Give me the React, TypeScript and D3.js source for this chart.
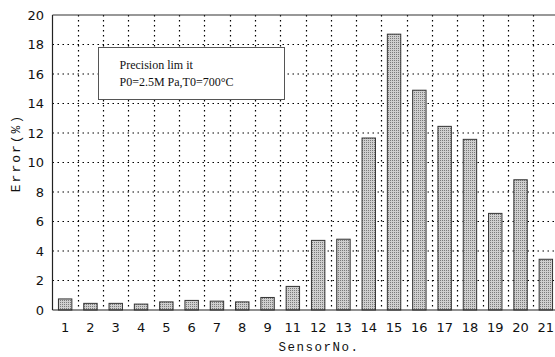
import React, { useRef, useEffect } from "react";
import * as d3 from "d3";

const sensors = ["1", "2", "3", "4", "5", "6", "7", "8", "9", "11", "12", "13", "14", "15", "16", "17", "18", "19", "20", "21"];
const errors = [0.75, 0.45, 0.45, 0.4, 0.55, 0.65, 0.6, 0.55, 0.85, 1.6, 4.72, 4.8, 11.66, 18.7, 14.9, 12.45, 11.57, 6.55, 8.83, 3.44];
const yTicks = [0, 2, 4, 6, 8, 10, 12, 14, 16, 18, 20];
const legendLines = ["Precision lim it", "P0=2.5M Pa,T0=700°C"];

const App: React.FC = () => {
  const ref = useRef<SVGSVGElement | null>(null);

  useEffect(() => {
    const svg = d3.select(ref.current);
    svg.selectAll("*").remove();

    const W = 555;
    const H = 357;
    const margin = { top: 15, left: 52.5, bottom: 47 };
    const plotRight = 558.5;
    const height = H - margin.top - margin.bottom;

    const x = d3
      .scaleBand<string>()
      .domain(sensors)
      .range([margin.left, plotRight])
      .paddingInner(0.47)
      .paddingOuter(0.235);

    const y = d3.scaleLinear().domain([0, 20]).range([margin.top + height, margin.top]);

    svg.attr("width", W).attr("height", H).style("display", "block").style("background", "#fff");

    // texture for bars
    const defs = svg.append("defs");
    const pat = defs
      .append("pattern")
      .attr("id", "dots")
      .attr("width", 2)
      .attr("height", 2)
      .attr("patternUnits", "userSpaceOnUse");
    pat.append("rect").attr("width", 2).attr("height", 2).attr("fill", "#cfcfcf");
    pat.append("rect").attr("width", 1).attr("height", 1).attr("fill", "#7a7a7a");

    // horizontal grid
    svg
      .append("g")
      .selectAll("line")
      .data(yTicks.filter((t) => t > 0 && t < 20))
      .join("line")
      .attr("x1", margin.left)
      .attr("x2", plotRight)
      .attr("y1", (d) => y(d))
      .attr("y2", (d) => y(d))
      .attr("stroke", "#000")
      .attr("stroke-width", 1.2)
      .attr("stroke-dasharray", "1.5,3.5");

    // vertical grid between bars
    const step = x.step();
    svg
      .append("g")
      .selectAll("line")
      .data(sensors.slice(1))
      .join("line")
      .attr("x1", (d) => Math.round((x(d) as number) + x.bandwidth() / 2 - step / 2) + 0.5)
      .attr("x2", (d) => Math.round((x(d) as number) + x.bandwidth() / 2 - step / 2) + 0.5)
      .attr("y1", margin.top)
      .attr("y2", margin.top + height)
      .attr("stroke", "#000")
      .attr("stroke-width", 1.2)
      .attr("stroke-dasharray", "1.5,3.5");

    // legend box
    const lg = svg.append("g").attr("transform", "translate(98.5,47.5)");
    lg.append("rect")
      .attr("width", 186)
      .attr("height", 52)
      .attr("fill", "#fff")
      .attr("stroke", "#555")
      .attr("stroke-width", 1);
    lg.selectAll("text")
      .data(legendLines)
      .join("text")
      .attr("x", 21)
      .attr("y", (_, i) => 21 + i * 17)
      .attr("font-family", "'Liberation Serif', serif")
      .attr("font-size", 12)
      .attr("fill", "#111")
      .text((d) => d);

    // bars
    svg
      .append("g")
      .selectAll("rect")
      .data(errors)
      .join("rect")
      .attr("x", (_, i) => x(sensors[i]) as number)
      .attr("y", (d) => y(d))
      .attr("width", x.bandwidth())
      .attr("height", (d) => y(0) - y(d))
      .attr("fill", "url(#dots)")
      .attr("stroke", "#333")
      .attr("stroke-width", 1);

    // axes frame
    svg.append("line")
      .attr("x1", margin.left).attr("x2", margin.left)
      .attr("y1", margin.top).attr("y2", margin.top + height)
      .attr("stroke", "#222").attr("stroke-width", 1.2);
    svg.append("line")
      .attr("x1", margin.left).attr("x2", plotRight)
      .attr("y1", margin.top + height).attr("y2", margin.top + height)
      .attr("stroke", "#222").attr("stroke-width", 1.2);
    svg.append("line")
      .attr("x1", margin.left).attr("x2", plotRight)
      .attr("y1", margin.top).attr("y2", margin.top)
      .attr("stroke", "#333").attr("stroke-width", 1.2);

    // y tick labels
    svg
      .append("g")
      .selectAll("text")
      .data(yTicks)
      .join("text")
      .attr("x", 44)
      .attr("y", (d) => y(d))
      .attr("dy", "0.35em")
      .attr("text-anchor", "end")
      .attr("font-family", "'DejaVu Sans', sans-serif")
      .attr("font-size", 13)
      .attr("fill", "#111")
      .text((d) => d);

    // x tick labels
    svg
      .append("g")
      .selectAll("text")
      .data(sensors)
      .join("text")
      .attr("x", (d) => (x(d) as number) + x.bandwidth() / 2)
      .attr("y", 332)
      .attr("text-anchor", "middle")
      .attr("font-family", "'DejaVu Sans', sans-serif")
      .attr("font-size", 13)
      .attr("fill", "#111")
      .text((d) => d);

    // axis titles
    svg.append("text")
      .attr("x", 319)
      .attr("y", 351)
      .attr("text-anchor", "middle")
      .attr("font-family", "'Liberation Mono', monospace")
      .attr("font-size", 12.5)
      .attr("letter-spacing", 1.5)
      .attr("fill", "#111")
      .text("SensorNo.");

    svg.append("text")
      .attr("transform", "translate(20,153) rotate(-90)")
      .attr("text-anchor", "middle")
      .attr("font-family", "'Liberation Mono', monospace")
      .attr("font-size", 13)
      .attr("letter-spacing", 2)
      .attr("fill", "#111")
      .text("Error(%)");
  }, []);

  return <svg ref={ref} style={{ position: "absolute", left: 0, top: 0 }} />;
};

export default App;
